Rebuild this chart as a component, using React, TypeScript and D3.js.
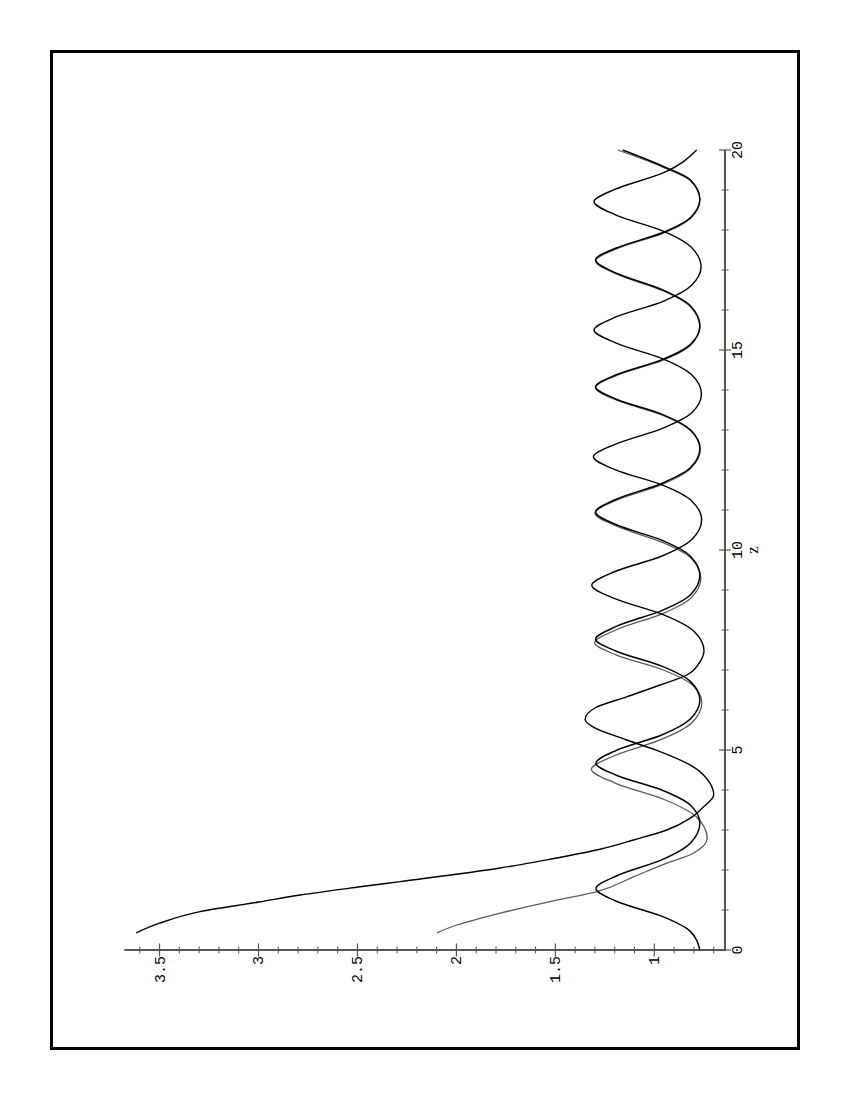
import React from 'react';
import * as d3 from 'd3';

// Curve A (black, starts high)
const zA = [0.43, 0.67, 0.96, 1.2, 1.375, 1.58, 1.71, 2.05, 2.27, 2.52, 2.75, 3.0, 3.29, 3.54, 3.88, 4.17, 4.58, 4.96, 5.25, 5.57, 5.77, 6.05, 6.33, 6.625, 6.875, 7.2, 7.48, 7.97, 8.38, 8.79, 9.12, 9.45, 9.85, 10.26, 10.75, 11.22, 11.62, 12.01, 12.33, 12.64, 13.04, 13.43, 13.9, 14.38, 14.78, 15.18, 15.5, 15.82, 16.21, 16.61, 17.08, 17.57, 17.98, 18.38, 18.71, 19.02, 19.42, 20];
const vA = [3.618, 3.5, 3.295, 2.998, 2.789, 2.486, 2.284, 1.779, 1.527, 1.274, 1.106, 0.937, 0.82, 0.76, 0.70, 0.719, 0.803, 0.971, 1.139, 1.308, 1.35, 1.3, 1.14, 0.971, 0.836, 0.77, 0.749, 0.80, 0.953, 1.203, 1.316, 1.205, 0.961, 0.811, 0.761, 0.81, 0.958, 1.199, 1.308, 1.199, 0.959, 0.811, 0.762, 0.811, 0.957, 1.196, 1.305, 1.197, 0.959, 0.813, 0.764, 0.813, 0.959, 1.197, 1.305, 1.197, 0.959, 0.786];

// Curve B (gray)
const zB = [0.43, 0.625, 0.79, 0.92, 1.21, 1.46, 1.83, 2.17, 2.42, 2.8, 3.32, 3.75, 4.18, 4.52, 4.85, 5.27, 5.68, 6.18, 6.63, 7.0, 7.38, 7.68, 8.0, 8.41, 8.81, 9.3, 9.79, 10.19, 10.6, 10.92, 11.24, 11.64, 12.04, 12.52, 12.98, 13.37, 13.75, 14.06, 14.36, 14.74, 15.12, 15.58, 16.08, 16.49, 16.9, 17.23, 17.53, 17.91, 18.29, 18.75, 19.23, 19.58, 20];
const vB = [2.098, 1.998, 1.88, 1.779, 1.527, 1.29, 1.106, 0.937, 0.803, 0.733, 0.786, 0.944, 1.201, 1.318, 1.206, 0.961, 0.81, 0.76, 0.809, 0.955, 1.194, 1.302, 1.195, 0.958, 0.813, 0.765, 0.813, 0.958, 1.193, 1.3, 1.194, 0.96, 0.816, 0.768, 0.816, 0.959, 1.192, 1.298, 1.192, 0.96, 0.817, 0.77, 0.817, 0.96, 1.192, 1.297, 1.192, 0.96, 0.817, 0.77, 0.817, 0.96, 1.185];

// Curve C (black, starts low)
const zC = [0, 0.46, 0.84, 1.22, 1.54, 1.85, 2.26, 2.675, 3.17, 3.62, 3.995, 4.37, 4.67, 4.99, 5.38, 5.78, 6.25, 6.71, 7.09, 7.47, 7.77, 8.09, 8.49, 8.88, 9.36, 9.84, 10.24, 10.63, 10.95, 11.27, 11.67, 12.06, 12.54, 13.0, 13.39, 13.77, 14.08, 14.38, 14.76, 15.14, 15.6, 16.1, 16.51, 16.92, 17.25, 17.55, 17.93, 18.31, 18.77, 19.25, 19.6, 20];
const vC = [0.77, 0.817, 0.96, 1.192, 1.295, 1.192, 0.96, 0.817, 0.77, 0.817, 0.96, 1.192, 1.295, 1.192, 0.96, 0.817, 0.77, 0.817, 0.96, 1.192, 1.297, 1.192, 0.96, 0.817, 0.77, 0.817, 0.96, 1.192, 1.297, 1.192, 0.96, 0.817, 0.77, 0.817, 0.96, 1.192, 1.297, 1.192, 0.96, 0.817, 0.77, 0.817, 0.96, 1.192, 1.297, 1.192, 0.96, 0.817, 0.77, 0.817, 0.96, 1.16];

const valueTicks = [1, 1.5, 2, 2.5, 3, 3.5];
const valueTickLabels = ['1', '1.5', '2', '2.5', '3', '3.5'];
const valueMinorTicks = [0.7, 0.8, 0.9, 1.1, 1.2, 1.3, 1.4, 1.6, 1.7, 1.8, 1.9, 2.1, 2.2, 2.3, 2.4, 2.6, 2.7, 2.8, 2.9, 3.1, 3.2, 3.3, 3.4, 3.6];
const zTicks = [0, 5, 10, 15, 20];
const zTickLabels = ['0', '5', '10', '15', '20'];
const zMinorTicks = [1, 2, 3, 4, 6, 7, 8, 9, 11, 12, 13, 14, 16, 17, 18, 19];
const zAxisTitle = 'z';

export default function App() {
  const W = 850;
  const H = 1100;
  const x = d3.scaleLinear().domain([0.643, 3.678]).range([725, 124.3]);
  const y = d3.scaleLinear().domain([0, 20]).range([950, 150]);
  const line = d3
    .line<[number, number]>()
    .x((d) => x(d[1]))
    .y((d) => y(d[0]))
    .curve(d3.curveMonotoneY);

  const dA = line(d3.zip(zA, vA) as [number, number][]) || '';
  const dB = line(d3.zip(zB, vB) as [number, number][]) || '';
  const dC = line(d3.zip(zC, vC) as [number, number][]) || '';

  const axisColor = '#555';
  const x0 = x(0.643);
  const y0 = y(0);
  const labelFont = '"Liberation Mono", "DejaVu Sans Mono", monospace';

  return (
    <svg
      width={W}
      height={H}
      style={{ position: 'absolute', left: 0, top: 0, background: '#fff' }}
    >
      <rect x={0} y={0} width={W} height={H} fill="#fff" />
      <rect x={51.5} y={51.5} width={747} height={997} fill="none" stroke="#000" strokeWidth={3} />

      {/* value axis (horizontal) */}
      <line x1={x.range()[1]} x2={x0 + 1} y1={y0} y2={y0} stroke={axisColor} strokeWidth={2} />
      {valueTicks.map((t) => (
        <line key={'vt' + t} x1={x(t)} x2={x(t)} y1={y0 - 6.5} y2={y0 + 6.5} stroke={axisColor} strokeWidth={1.2} />
      ))}
      {valueMinorTicks.map((t) => (
        <line key={'vm' + t} x1={x(t)} x2={x(t)} y1={y0 - 3.5} y2={y0 + 3.5} stroke={axisColor} strokeWidth={1} />
      ))}
      {valueTicks.map((t, i) => (
        <text
          key={'vl' + t}
          transform={`translate(${x(t) + 5},${y0 + 6}) rotate(-90)`}
          textAnchor="end"
          fontFamily={labelFont}
          fontSize={15}
          fill="#000"
        >
          {valueTickLabels[i]}
        </text>
      ))}

      {/* z axis (vertical) */}
      <line x1={x0} x2={x0} y1={y(20)} y2={y0} stroke={axisColor} strokeWidth={2} />
      {zTicks.map((t) => (
        <line key={'zt' + t} x1={x0 - 6} x2={x0 + 6} y1={y(t)} y2={y(t)} stroke={axisColor} strokeWidth={1.2} />
      ))}
      {zMinorTicks.map((t) => (
        <line key={'zm' + t} x1={x0 - 3.5} x2={x0 + 3.5} y1={y(t)} y2={y(t)} stroke={axisColor} strokeWidth={1} />
      ))}
      {zTicks.map((t, i) => (
        <text
          key={'zl' + t}
          transform={`translate(${x0 + 17},${y(t)}) rotate(-90)`}
          textAnchor="middle"
          fontFamily={labelFont}
          fontSize={15}
          fill="#000"
        >
          {zTickLabels[i]}
        </text>
      ))}
      <text
        transform={`translate(${x0 + 33},${y(10)}) rotate(-90)`}
        textAnchor="middle"
        fontFamily='"Liberation Serif", "DejaVu Serif", serif'
        fontSize={17}
        fill="#000"
      >
        {zAxisTitle}
      </text>

      {/* curves */}
      <path d={dB} fill="none" stroke="#5a5a5a" strokeWidth={1.3} />
      <path d={dA} fill="none" stroke="#000" strokeWidth={1.4} />
      <path d={dC} fill="none" stroke="#000" strokeWidth={1.5} />
    </svg>
  );
}
